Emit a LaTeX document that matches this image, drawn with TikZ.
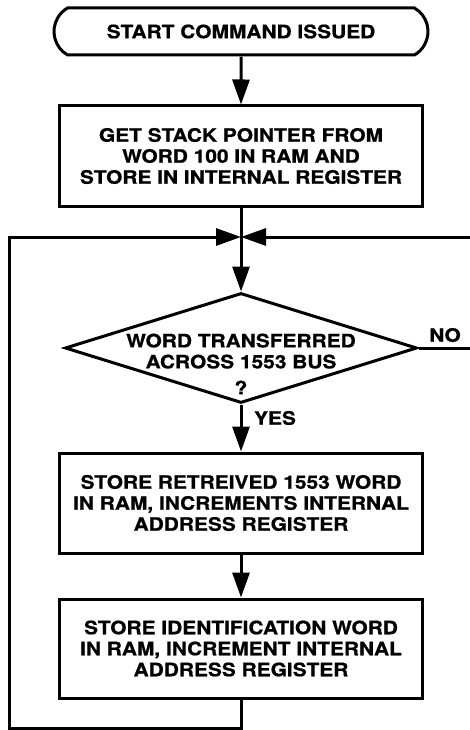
\documentclass[tikz,border=0pt]{standalone}
\usepackage{fontspec}
\setmainfont{TeX Gyre Heros}[FakeStretch=1.13, BoldFeatures={FakeBold=0.8}]
\usetikzlibrary{arrows.meta,shapes.geometric,shapes.misc}

\begin{document}
\begin{tikzpicture}[x=1pt, y=-1pt, line width=3pt,
    every node/.style={font=\fontsize{18.5}{21}\selectfont\bfseries, align=center},
    procbox/.style={draw, rectangle, minimum width=363pt, minimum height=100pt, inner sep=0pt},
    flow/.style={-{Triangle[length=25pt, width=17pt]}}]
    \useasboundingbox (0,0) rectangle (469,730);
    % terminal and boxes
    \node[draw, rounded rectangle, rounded rectangle arc length=120,
          minimum width=374pt, minimum height=47pt, inner sep=0pt] (start) at (241,31.5) {START COMMAND ISSUED};
    \node[procbox] (getsp) at (241,156) {GET STACK POINTER FROM\\WORD 100 IN RAM AND\\STORE IN INTERNAL REGISTER};
    \node[draw, diamond, minimum width=352pt, minimum height=110pt, inner sep=0pt] (check) at (241,348) {};
    \node (checktxt) at (241,364) {WORD TRANSFERRED\\ACROSS 1553 BUS\\[5pt]?};
    \node[procbox] (storew) at (241,503) {STORE RETREIVED 1553 WORD\\IN RAM, INCREMENTS INTERNAL\\ADDRESS REGISTER};
    \node[procbox, minimum height=99pt] (storeid) at (241,648.5) {STORE IDENTIFICATION WORD\\IN RAM, INCREMENT INTERNAL\\ADDRESS REGISTER};
    \node (yes) at (275,418) {YES};
    \node (no) at (445,335) {NO};
    % loop points
    \coordinate (merge) at (241,237);
    \coordinate (loopL) at (9,728);
    \coordinate (loopR) at (476,237);
    % connectors
    \draw[flow] (start) -- (getsp);
    \draw[flow] (getsp) -- (check);
    \draw[flow] (check) -- (storew);
    \draw[flow] (storew) -- (storeid);
    \draw[flow] (storeid.south) |- (loopL) |- (merge);
    \draw[flow] (check.east) -| (loopR) -- (merge);
\end{tikzpicture}
\end{document}
